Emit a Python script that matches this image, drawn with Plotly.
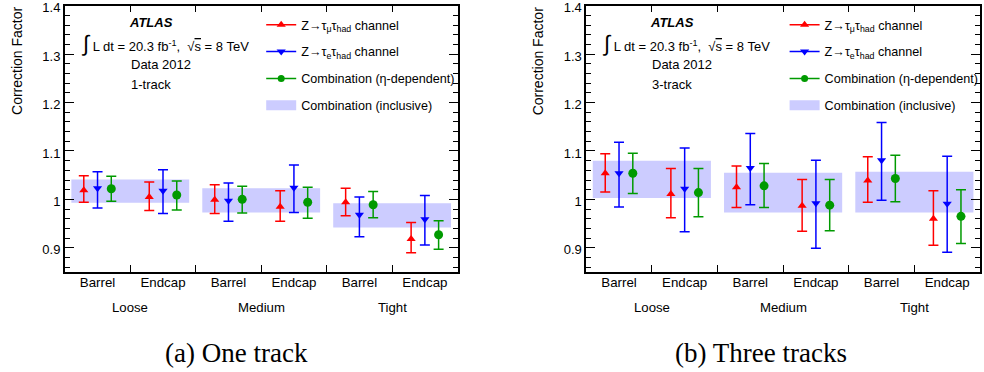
import plotly.graph_objects as go

# Bins: Loose/Medium/Tight working points, each split into Barrel/Endcap
groups = ["Loose", "Medium", "Tight"]
regions = ["Barrel", "Endcap", "Barrel", "Endcap", "Barrel", "Endcap"]

# ---- 1-track correction factors ----
mu_1p = [1.019, 1.005, 0.999, 0.985, 0.994, 0.918]
mu_1p_up = [0.030, 0.031, 0.031, 0.033, 0.029, 0.034]
mu_1p_dn = [0.025, 0.028, 0.028, 0.030, 0.028, 0.028]

el_1p = [1.023, 1.018, 0.997, 1.024, 0.968, 0.959]
el_1p_up = [0.034, 0.043, 0.037, 0.047, 0.037, 0.049]
el_1p_dn = [0.041, 0.047, 0.042, 0.051, 0.045, 0.053]

comb_1p = [1.022, 1.009, 1.000, 0.994, 0.989, 0.927]
comb_1p_up = [0.026, 0.029, 0.027, 0.031, 0.027, 0.029]
comb_1p_dn = [0.026, 0.031, 0.028, 0.033, 0.027, 0.030]

incl_1p = [1.017, 0.998, 0.967]
incl_1p_err = [0.024, 0.025, 0.025]

# ---- 3-track correction factors ----
mu_3p = [1.054, 1.011, 1.025, 0.987, 1.039, 0.960]
mu_3p_up = [0.040, 0.053, 0.044, 0.054, 0.049, 0.058]
mu_3p_dn = [0.039, 0.049, 0.042, 0.053, 0.045, 0.055]

el_3p = [1.054, 1.022, 1.065, 0.992, 1.081, 0.991]
el_3p_up = [0.064, 0.084, 0.071, 0.089, 0.078, 0.098]
el_3p_dn = [0.070, 0.089, 0.076, 0.093, 0.083, 0.100]

comb_3p = [1.054, 1.014, 1.028, 0.988, 1.043, 0.965]
comb_3p_up = [0.041, 0.050, 0.046, 0.053, 0.048, 0.055]
comb_3p_dn = [0.042, 0.050, 0.045, 0.053, 0.048, 0.056]

incl_3p = [1.0415, 1.014, 1.015]
incl_3p_err = [0.0385, 0.041, 0.042]

RED = "#ff0000"
BLUE = "#0000ff"
GREEN = "#009a00"
BAND = "#ccccff"
FONT = "Liberation Sans"

W, H = 984, 372
bin_centers = [i + 0.5 for i in range(len(regions))]
offsets = {"mu": -0.21, "el": 0.0, "comb": 0.21}


def px(x):
    return x / W


def py(y):
    return 1 - y / H


fig = go.Figure()


def add_panel(sfx, legend, mu, mu_up, mu_dn, el, el_up, el_dn,
              comb, comb_up, comb_dn, incl, incl_err):
    xa, ya = "x" + sfx, "y" + sfx
    # inclusive combination bands, one per working point (spanning both regions)
    bx, by = [], []
    for g, (c, e) in enumerate(zip(incl, incl_err)):
        x0, x1 = 2 * g + 0.1, 2 * g + 1.9
        bx += [x0, x1, x1, x0, x0, None]
        by += [c - e, c - e, c + e, c + e, c - e, None]
    fig.add_trace(go.Scatter(
        x=bx, y=by, mode="lines", fill="toself", fillcolor=BAND,
        line=dict(width=0, color=BAND), xaxis=xa, yaxis=ya,
        showlegend=False, hoverinfo="skip"))
    # legend swatch for the band
    fig.add_trace(go.Scatter(
        x=[None], y=[None], mode="lines", xaxis=xa, yaxis=ya,
        line=dict(color=BAND, width=15),
        name="Combination (inclusive)", legend=legend,
        legendgroup=legend + "d", legendrank=4))

    series = [
        ("mu", mu, mu_up, mu_dn, RED, "triangle-up", 8,
         "Z→τ<sub>μ</sub>τ<sub>had</sub> channel", 1),
        ("el", el, el_up, el_dn, BLUE, "triangle-down", 8,
         "Z→τ<sub>e</sub>τ<sub>had</sub> channel", 2),
        ("comb", comb, comb_up, comb_dn, GREEN, "circle", 9,
         "Combination (η-dependent)", 3),
    ]
    for key, v, up, dn, col, sym, size, name, rank in series:
        xs = [c + offsets[key] for c in bin_centers]
        fig.add_trace(go.Scatter(
            x=xs, y=v, mode="markers", xaxis=xa, yaxis=ya,
            marker=dict(symbol=sym, size=size, color=col, line=dict(width=0)),
            error_y=dict(type="data", symmetric=False, array=up, arrayminus=dn,
                         color=col, thickness=1.5, width=5),
            showlegend=False))
        # legend entry: line with marker, as in the ROOT style
        fig.add_trace(go.Scatter(
            x=[None], y=[None], mode="lines+markers", xaxis=xa, yaxis=ya,
            marker=dict(symbol=sym, size=size if key != "comb" else 7, color=col),
            line=dict(color=col, width=1.5), name=name, legend=legend,
            legendgroup=legend + key, legendrank=rank))


add_panel("", "legend", mu_1p, mu_1p_up, mu_1p_dn, el_1p, el_1p_up, el_1p_dn,
          comb_1p, comb_1p_up, comb_1p_dn, incl_1p, incl_1p_err)
add_panel("2", "legend2", mu_3p, mu_3p_up, mu_3p_dn, el_3p, el_3p_up, el_3p_dn,
          comb_3p, comb_3p_up, comb_3p_dn, incl_3p, incl_3p_err)

ytop, ybot = 5.6, 272
panels = [(65, 459), (588, 983)]

yticks = [0.9, 1.0, 1.1, 1.2, 1.3, 1.4]
ytext = ["0.9", "1", "1.1", "1.2", "1.3", "1.4"]


def xaxis(l, r, anchor):
    return dict(
        domain=[px(l), px(r)], range=[0, 6], anchor=anchor, automargin=False,
        tickmode="array", tickvals=bin_centers, ticktext=regions,
        ticklabelstandoff=-3,
        ticks="inside", ticklen=0, tickfont=dict(family=FONT, size=13.3, color="black"),
        minor=dict(tickmode="array", tickvals=[1, 2, 3, 4, 5], ticks="inside",
                   ticklen=7, tickwidth=1, tickcolor="black"),
        showline=True, linecolor="black", linewidth=1.5, mirror="ticks",
        showgrid=False, zeroline=False, fixedrange=True)


def yaxis(anchor):
    return dict(
        domain=[py(ybot), py(ytop)], range=[0.85, 1.4002], anchor=anchor,
        automargin=False,
        tickmode="array", tickvals=yticks, ticktext=ytext,
        ticklabeloverflow="allow", ticklabelshift=2,
        ticks="inside", ticklen=9, tickwidth=1, tickcolor="black",
        tickfont=dict(family=FONT, size=13, color="black"),
        minor=dict(tickmode="linear", tick0=0.9, dtick=0.02, ticks="inside",
                   ticklen=5, tickwidth=1, tickcolor="black"),
        showline=True, linecolor="black", linewidth=1.5, mirror="ticks",
        showgrid=False, zeroline=False, fixedrange=True)


annotations = []
labels = ["1-track", "3-track"]
for (l, r), trk in zip(panels, labels):
    # y-axis title, right-aligned at the top of the axis
    annotations.append(dict(
        text="Correction Factor", textangle=-90, x=px(l - 48), y=py(61),
        xref="paper", yref="paper", xanchor="center", yanchor="middle",
        showarrow=False, font=dict(family=FONT, size=14, color="black")))
    # working-point group labels under each pair of bins
    gw = (r - l) / 3
    for g, name in enumerate(groups):
        annotations.append(dict(
            text=name, x=px(l + gw * (g + 0.5)), y=py(307),
            xref="paper", yref="paper", xanchor="center", yanchor="middle",
            showarrow=False, font=dict(family=FONT, size=13.2, color="black")))
    # ATLAS label block
    annotations.append(dict(
        text="<b><i>ATLAS</i></b>", x=px(l + 62), y=py(23),
        xref="paper", yref="paper", xanchor="left", yanchor="middle",
        showarrow=False, font=dict(family=FONT, size=13, color="black")))
    annotations.append(dict(
        text="<span style='font-size:22px'>∫</span> L dt = 20.3 fb<sup>-1</sup>,  "
             "√<span style='text-decoration:overline'>s</span> = 8 TeV",
        x=px(l + 14), y=py(43),
        xref="paper", yref="paper", xanchor="left", yanchor="middle",
        showarrow=False, font=dict(family=FONT, size=13, color="black")))
    annotations.append(dict(
        text="Data 2012", x=px(l + 64), y=py(64),
        xref="paper", yref="paper", xanchor="left", yanchor="middle",
        showarrow=False, font=dict(family=FONT, size=13, color="black")))
    annotations.append(dict(
        text=trk, x=px(l + 64), y=py(84),
        xref="paper", yref="paper", xanchor="left", yanchor="middle",
        showarrow=False, font=dict(family=FONT, size=13, color="black")))

# sub-figure captions
for text, cx in [("(a) One track", 237), ("(b) Three tracks", 763)]:
    annotations.append(dict(
        text=text, x=px(cx), y=py(353), xref="paper", yref="paper",
        xanchor="center", yanchor="middle", showarrow=False,
        font=dict(family="Liberation Serif", size=27, color="black")))

legend_style = dict(
    xanchor="left", yanchor="top", bgcolor="rgba(0,0,0,0)",
    borderwidth=0, traceorder="grouped", tracegroupgap=7.5,
    font=dict(family=FONT, size=12.6, color="black"),
    itemclick=False, itemdoubleclick=False)

fig.update_layout(
    width=W, height=H, autosize=False,
    margin=dict(l=0, r=0, t=0, b=0),
    paper_bgcolor="white", plot_bgcolor="white",
    showlegend=True,
    xaxis=xaxis(*panels[0], "y"), yaxis=yaxis("x"),
    xaxis2=xaxis(*panels[1], "y2"), yaxis2=yaxis("x2"),
    legend=dict(x=px(262), y=py(10), **legend_style),
    legend2=dict(x=px(787), y=py(10), **legend_style),
    annotations=annotations,
)

fig.write_html("out.html")
